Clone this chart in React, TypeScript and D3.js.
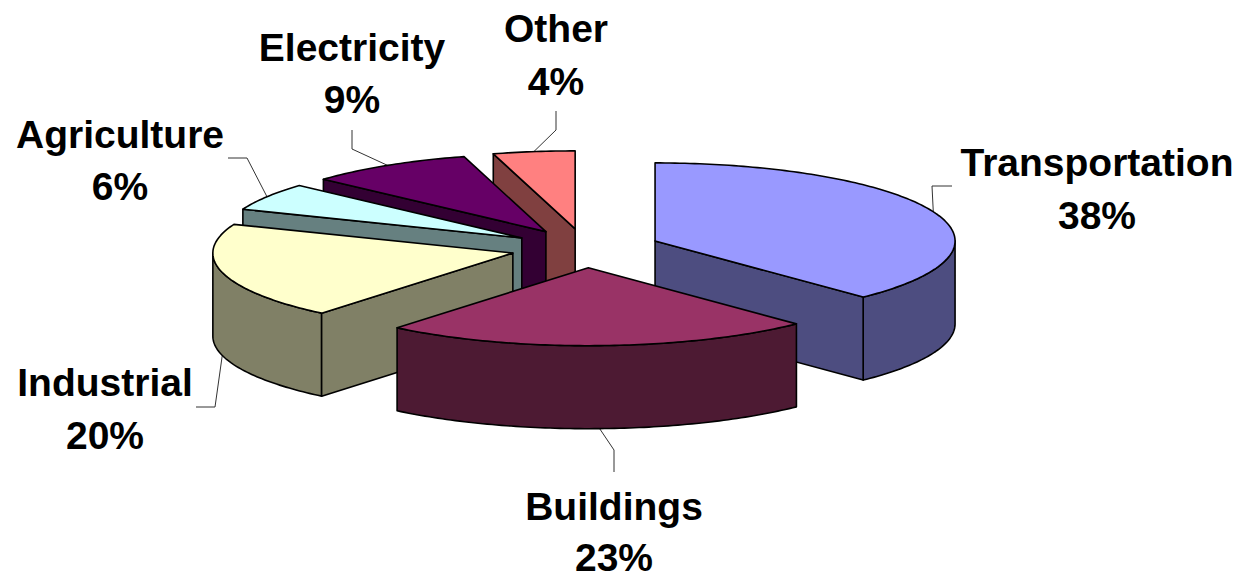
import * as d3 from 'd3';

const categories = ['Transportation', 'Buildings', 'Industrial', 'Agriculture', 'Electricity', 'Other'];
const shares = [37.8, 23.2, 20, 5.7, 8.9, 4.4];
const topColors = ['#9999ff', '#993366', '#ffffcc', '#ccffff', '#660066', '#ff8080'];
const wallColors = ['#4d4d80', '#4d1a33', '#808066', '#668080', '#330033', '#804040'];
// back to front, so nearer slices cover the ones behind
const drawOrder = [5, 4, 3, 2, 0, 1];

const width = 1239;
const height = 575;
const cx = 585.5;
const cy = 248.2;
const rx = 300;
const ry = 78;
const explode = 75;
const depth = 83;

// label centre + baselines, then the leader's elbow points
const labelLayout = [
  { x: 1097, y: 176, y2: 229, elbow: [[932, 186], [952, 186]] },
  { x: 614, y: 520, y2: 571, elbow: [[614, 450], [614, 472]] },
  { x: 105, y: 396, y2: 449, elbow: [[215, 407], [196, 407]] },
  { x: 120, y: 148, y2: 200, elbow: [[247, 158], [228, 158]] },
  { x: 352, y: 61, y2: 113, elbow: [[352, 149], [352, 130]] },
  { x: 556, y: 42, y2: 95, elbow: [[556, 130], [556, 111]] },
];

const arcs = d3.pie<number>().sort(null).value((d) => d)(shares);

type Pt = [number, number];

const line = d3.line();

function closed(points: Pt[]) {
  return line(points) + 'Z';
}

export default function App() {
  const apex = (a: { startAngle: number; endAngle: number }): Pt => {
    const mid = (a.startAngle + a.endAngle) / 2;
    return [cx + explode * Math.sin(mid), cy - (explode * ry / rx) * Math.cos(mid)];
  };
  const rim = (o: Pt, t: number, dy = 0): Pt => [o[0] + rx * Math.sin(t), o[1] - ry * Math.cos(t) + dy];
  const sweep = (o: Pt, t0: number, t1: number, dy = 0): Pt[] => {
    const n = Math.max(2, Math.ceil(Math.abs(t1 - t0) * 60));
    return d3.range(n + 1).map((i) => rim(o, t0 + ((t1 - t0) * i) / n, dy));
  };

  const slices = arcs.map((a, i) => {
    const o = apex(a);
    const { startAngle: s, endAngle: e } = a;
    const walls: string[] = [];
    // outer wall only where the rim faces the viewer
    const w0 = Math.max(s, Math.PI / 2);
    const w1 = Math.min(e, (3 * Math.PI) / 2);
    if (w1 > w0) {
      walls.push(closed([...sweep(o, w0, w1), ...sweep(o, w1, w0, depth)]));
    }
    // cut faces
    if (Math.sin(s) < 0) {
      walls.push(closed([o, rim(o, s), rim(o, s, depth), [o[0], o[1] + depth]]));
    }
    if (Math.sin(e) > 0) {
      walls.push(closed([o, rim(o, e), rim(o, e, depth), [o[0], o[1] + depth]]));
    }
    const top = closed([o, ...sweep(o, s, e)]);
    return { i, walls, top };
  });

  const leaders = arcs.map((a, i) => {
    const o = apex(a);
    const mid = (a.startAngle + a.endAngle) / 2;
    const front = Math.cos(mid) < 0;
    const start = rim(o, mid, front ? depth : 0);
    return line([start, ...(labelLayout[i].elbow as Pt[])]) as string;
  });

  return (
    <svg
      width={width}
      height={height}
      viewBox={`0 0 ${width} ${height}`}
      style={{ position: 'absolute', left: 0, top: 0, background: '#fff' }}
    >
      <g fill="none" stroke="#333" strokeWidth={1}>
        {leaders.map((d, i) => (
          <path key={i} d={d} />
        ))}
      </g>
      {drawOrder.map((idx) => {
        const s = slices[idx];
        return (
          <g key={idx} stroke="#000" strokeWidth={1.6} strokeLinejoin="round">
            {s.walls.map((d, j) => (
              <path key={j} d={d} fill={wallColors[idx]} />
            ))}
            <path d={s.top} fill={topColors[idx]} />
          </g>
        );
      })}
      <g fontFamily="'Liberation Sans', Arial, sans-serif" fontWeight={700} fontSize={39} textAnchor="middle" fill="#000">
        {categories.map((c, i) => (
          <g key={c}>
            <text x={labelLayout[i].x} y={labelLayout[i].y}>{c}</text>
            <text x={labelLayout[i].x} y={labelLayout[i].y2}>{`${Math.round(shares[i])}%`}</text>
          </g>
        ))}
      </g>
    </svg>
  );
}
